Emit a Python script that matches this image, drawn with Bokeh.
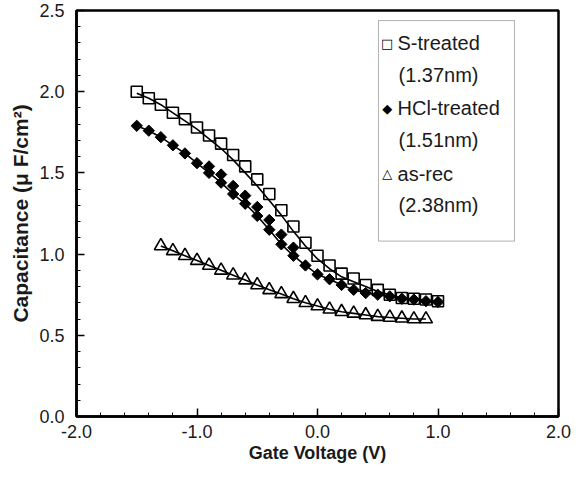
import numpy as np
from bokeh.plotting import figure
from bokeh.models import FixedTicker, NumeralTickFormatter, BoxAnnotation, Label, Range1d
from bokeh.embed import file_html
from bokeh.resources import INLINE

# ---- data ----
s_v = [-1.5, -1.4, -1.3, -1.2, -1.1, -1.0, -0.9, -0.8, -0.7, -0.6, -0.5, -0.4, -0.3,
       -0.2, -0.1, 0.0, 0.1, 0.2, 0.3, 0.4, 0.5, 0.6, 0.7, 0.8, 0.9, 1.0]
s_c = [2.00, 1.96, 1.92, 1.87, 1.83, 1.78, 1.73, 1.68, 1.61, 1.54, 1.46, 1.37, 1.27,
       1.17, 1.07, 0.99, 0.93, 0.88, 0.85, 0.81, 0.78, 0.75, 0.73, 0.725, 0.72, 0.71]
s_fit = [1.99, 1.96, 1.92, 1.87, 1.82, 1.77, 1.71, 1.65, 1.58, 1.50, 1.42, 1.33, 1.24,
         1.14, 1.05, 0.97, 0.91, 0.86, 0.83, 0.80, 0.77, 0.75, 0.73, 0.72, 0.715, 0.71]

h_v = [-1.5, -1.4, -1.3, -1.2, -1.1, -1.0, -0.9, -0.8, -0.7, -0.6, -0.5, -0.4, -0.3,
       -0.2, -0.1, 0.0, 0.1, 0.2, 0.3, 0.4, 0.5, 0.6, 0.7, 0.8, 0.9, 1.0]
h_c = [1.79, 1.76, 1.72, 1.67, 1.62, 1.56, 1.50, 1.44, 1.37, 1.31, 1.235, 1.15, 1.06,
       0.99, 0.93, 0.875, 0.845, 0.81, 0.78, 0.76, 0.75, 0.74, 0.725, 0.72, 0.71, 0.705]
h2_v = [-0.9, -0.8, -0.7, -0.6, -0.5, -0.4, -0.3, -0.2]
h2_c = [1.54, 1.49, 1.42, 1.36, 1.29, 1.21, 1.12, 1.04]

a_v = [-1.3, -1.2, -1.1, -1.0, -0.9, -0.8, -0.7, -0.6, -0.5, -0.4, -0.3, -0.2,
       -0.1, 0.0, 0.1, 0.2, 0.3, 0.4, 0.5, 0.6, 0.7, 0.8, 0.9]
a_c = [1.05, 1.02, 0.99, 0.96, 0.93, 0.90, 0.87, 0.84, 0.81, 0.78, 0.755, 0.725,
       0.70, 0.68, 0.66, 0.645, 0.635, 0.625, 0.615, 0.61, 0.605, 0.60, 0.60]

legend_names = ["S-treated", "HCl-treated", "as-rec"]
legend_thick = ["(1.37nm)", "(1.51nm)", "(2.38nm)"]
legend_syms = ["\u25a1", "\u25c6", "\u25b3"]

x_major = [-2.0, -1.0, 0.0, 1.0, 2.0]
x_minor = [round(-2.0 + 0.2 * i, 1) for i in range(21)]
y_major = [0.0, 0.5, 1.0, 1.5, 2.0, 2.5]
y_minor = [round(0.1 * i, 1) for i in range(26)]

FONT = "Liberation Sans"
TXT = "#1a1a1a"

p = figure(frame_width=482, frame_height=406, output_backend="svg", toolbar_location=None,
           x_range=Range1d(-2.0, 2.0), y_range=Range1d(0.0, 2.5),
           min_border_left=76, min_border_right=15, min_border_top=10, min_border_bottom=49)
p.grid.visible = False
p.outline_line_color = "black"
p.outline_line_width = 2.5
p.background_fill_color = "white"
p.border_fill_color = "white"

for ax in (p.xaxis[0], p.yaxis[0]):
    ax.axis_line_width = 2.5
    ax.major_tick_in = 8
    ax.major_tick_out = 0
    ax.minor_tick_in = 4
    ax.minor_tick_out = 0
    ax.major_tick_line_width = 1.5
    ax.minor_tick_line_width = 1
    ax.major_label_text_font = FONT
    ax.major_label_text_font_size = "18px"
    ax.major_label_text_color = TXT
    ax.axis_label_text_font = FONT
    ax.axis_label_text_font_style = "bold"
    ax.axis_label_text_color = TXT
    ax.formatter = NumeralTickFormatter(format="0.0")

p.xaxis.axis_label_text_font_size = "18px"
p.yaxis.axis_label_text_font_size = "21px"
p.xaxis.ticker = FixedTicker(ticks=x_major, minor_ticks=x_minor)
p.yaxis.ticker = FixedTicker(ticks=y_major, minor_ticks=y_minor)
p.xaxis.axis_label = "Gate Voltage (V)"
p.yaxis.axis_label = "Capacitance (\u03bc F/cm\u00b2)"
p.xaxis.major_label_standoff = 8
p.yaxis.major_label_standoff = 12
p.xaxis.axis_label_standoff = 2
p.yaxis.axis_label_standoff = 4

# fitted lines
p.line(s_v, s_fit, line_color="black", line_width=1.6)
p.line(h_v, h_c, line_color="black", line_width=1.6)
p.line(a_v, a_c, line_color="black", line_width=1.6)

# markers
p.scatter(s_v, s_c, marker="square", size=11, fill_color="white", fill_alpha=0.0,
          line_color="black", line_width=1.6)
p.scatter(h_v, h_c, marker="square", angle=np.pi / 4, size=8, fill_color="black",
          line_color="black")
p.scatter(h2_v, h2_c, marker="square", angle=np.pi / 4, size=8, fill_color="black",
          line_color="black")
p.scatter(a_v, a_c, marker="triangle", size=13, fill_color="white", fill_alpha=0.0,
          line_color="black", line_width=1.6)

# legend box (placed in data coordinates of the frame)
box = BoxAnnotation(left=0.506, right=1.635, top=2.438, bottom=1.080,
                    fill_color="white", fill_alpha=1.0, line_color="black", line_width=1)
p.add_layout(box)

row_y = [2.298, 1.897, 1.496]
sub_y = [2.105, 1.704, 1.302]
for sym, name, thick, yy, yy2 in zip(legend_syms, legend_names, legend_thick, row_y, sub_y):
    p.add_layout(Label(x=0.578, y=yy, text=sym, text_font="DejaVu Sans",
                       text_font_size="13px", text_baseline="middle", text_align="center",
                       text_color="black"))
    p.add_layout(Label(x=0.664, y=yy, text=name, text_font=FONT,
                       text_font_size="20px", text_baseline="middle", text_color=TXT))
    p.add_layout(Label(x=0.672, y=yy2, text=thick, text_font=FONT,
                       text_font_size="20px", text_baseline="middle", text_color=TXT))

open("out.html", "w").write(file_html(p, INLINE))
